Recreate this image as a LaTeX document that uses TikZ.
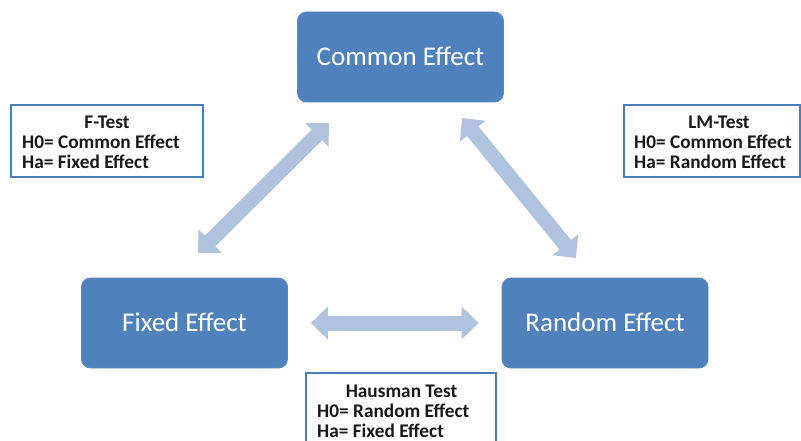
\documentclass[tikz,border=0pt]{standalone}
\usepackage{fontspec}
\setmainfont{Carlito}
\usetikzlibrary{arrows.meta}
\definecolor{boxblue}{HTML}{4F81BD}
\definecolor{boxedge}{HTML}{5A89C2}
\definecolor{arrowblue}{HTML}{B0C3DE}
\definecolor{testedge}{HTML}{4A7EBB}
\begin{document}
\begin{tikzpicture}[x=1pt,y=-1pt,
  effect/.style={rectangle, rounded corners=9pt, fill=boxblue, draw=boxedge, line width=0.8pt,
    text=white, font=\fontsize{27}{30}\selectfont, minimum width=206pt, minimum height=90pt,
    text height=17pt, text depth=0pt, inner sep=0pt},
  testbox/.style={rectangle, draw=testedge, line width=2pt, fill=white, inner sep=0pt},
  testtext/.style={font=\bfseries\fontsize{19.3}{20}\selectfont, inner sep=0pt, text=black!90},
  bigarrow/.style={draw=arrowblue, line width=15pt,
    {Triangle[width=32pt,length=17pt]}-{Triangle[width=32pt,length=17pt]}}
]
\clip (0,0) rectangle (801,441);
\fill[white] (0,0) rectangle (801,441);

% effect boxes
\node[effect] (ce) at (400.5,57) {Common Effect};
\node[effect] (fe) at (184.5,323) {Fixed Effect};
\node[effect] (re) at (605,323) {Random Effect};

% arrows
\coordinate (l1) at (198,253);
\coordinate (l2) at (329,123);
\coordinate (r1) at (462,118);
\coordinate (r2) at (576,258);
\draw[bigarrow] (l1) -- (l2);
\draw[bigarrow] (r1) -- (r2);
\draw[bigarrow, shorten <=23pt, shorten >=23pt] (fe.east) -- (re.west);

% F-Test
\node[testbox, minimum width=192pt, minimum height=72pt] (ft) at (107,141) {};
\node[testtext, anchor=base] (fth) at (107,129) {F-Test};
\node[testtext, anchor=base west] (ft0) at (22,149) {H0= Common Effect};
\node[testtext, anchor=base west] (fta) at (22,169) {Ha= Fixed Effect};

% LM-Test
\node[testbox, minimum width=175.5pt, minimum height=72pt] (lm) at (711.75,141) {};
\node[testtext, anchor=base] (lmh) at (719,129) {LM-Test};
\node[testtext, anchor=base west] (lm0) at (634,149) {H0= Common Effect};
\node[testtext, anchor=base west] (lma) at (634,169) {Ha= Random Effect};

% Hausman
\node[testbox, minimum width=190pt, minimum height=82pt] (ht) at (401,414) {};
\node[testtext, anchor=base] (hth) at (401.5,397.5) {Hausman Test};
\node[testtext, anchor=base west] (ht0) at (317,417.5) {H0= Random Effect};
\node[testtext, anchor=base west] (hta) at (317,437.5) {Ha= Fixed Effect};
\end{tikzpicture}
\end{document}
